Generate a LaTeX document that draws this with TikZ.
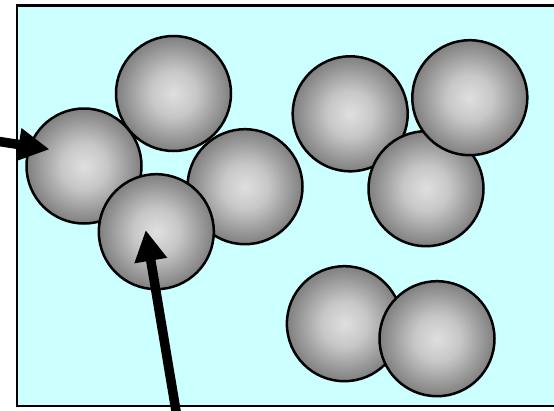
\documentclass[tikz,border=0pt]{standalone}
\usetikzlibrary{arrows.meta}
\definecolor{bgcyan}{HTML}{CCFFFF}
\pgfdeclareradialshading{ballshade}{\pgfpoint{0bp}{0bp}}{rgb(0bp)=(0.875,0.875,0.875); rgb(10bp)=(0.78,0.78,0.78); rgb(25bp)=(0.5,0.5,0.5); rgb(50bp)=(0.5,0.5,0.5)}
\tikzset{
  ball/.style={circle, minimum size=115pt, inner sep=0pt, draw=black, line width=2.5pt, shading=ballshade},
  bigarrow/.style={-{Triangle[length=31pt,width=31pt]}, line width=9.5pt, black},
}
\begin{document}
\begin{tikzpicture}[x=1pt,y=-1pt]
\useasboundingbox (0,0) rectangle (554,410);
\clip (0,0) rectangle (554,410);
\draw[fill=bgcyan, line width=2.5pt] (17,5.5) rectangle (580,406);
% left group
\node[ball] (B) at (84,166) {};
\node[ball] (C) at (245,186.7) {};
\node[ball] (A) at (173.5,93.5) {};
\node[ball] (D) at (156.3,231.7) {};
% right top group
\node[ball] (E) at (350.2,113.8) {};
\node[ball] (G) at (426,188.7) {};
\node[ball] (F) at (469.8,97.7) {};
% bottom pair
\node[ball] (H) at (344.4,323.7) {};
\node[ball] (I) at (437,338.7) {};
% arrows
\coordinate (s1) at (-4,141);
\coordinate (t1) at (49.5,149.3);
\coordinate (s2) at (176.5,414);
\coordinate (t2) at (145.7,230);
\draw[bigarrow] (s1) -- (t1);
\draw[bigarrow] (s2) -- (t2);
\end{tikzpicture}
\end{document}
